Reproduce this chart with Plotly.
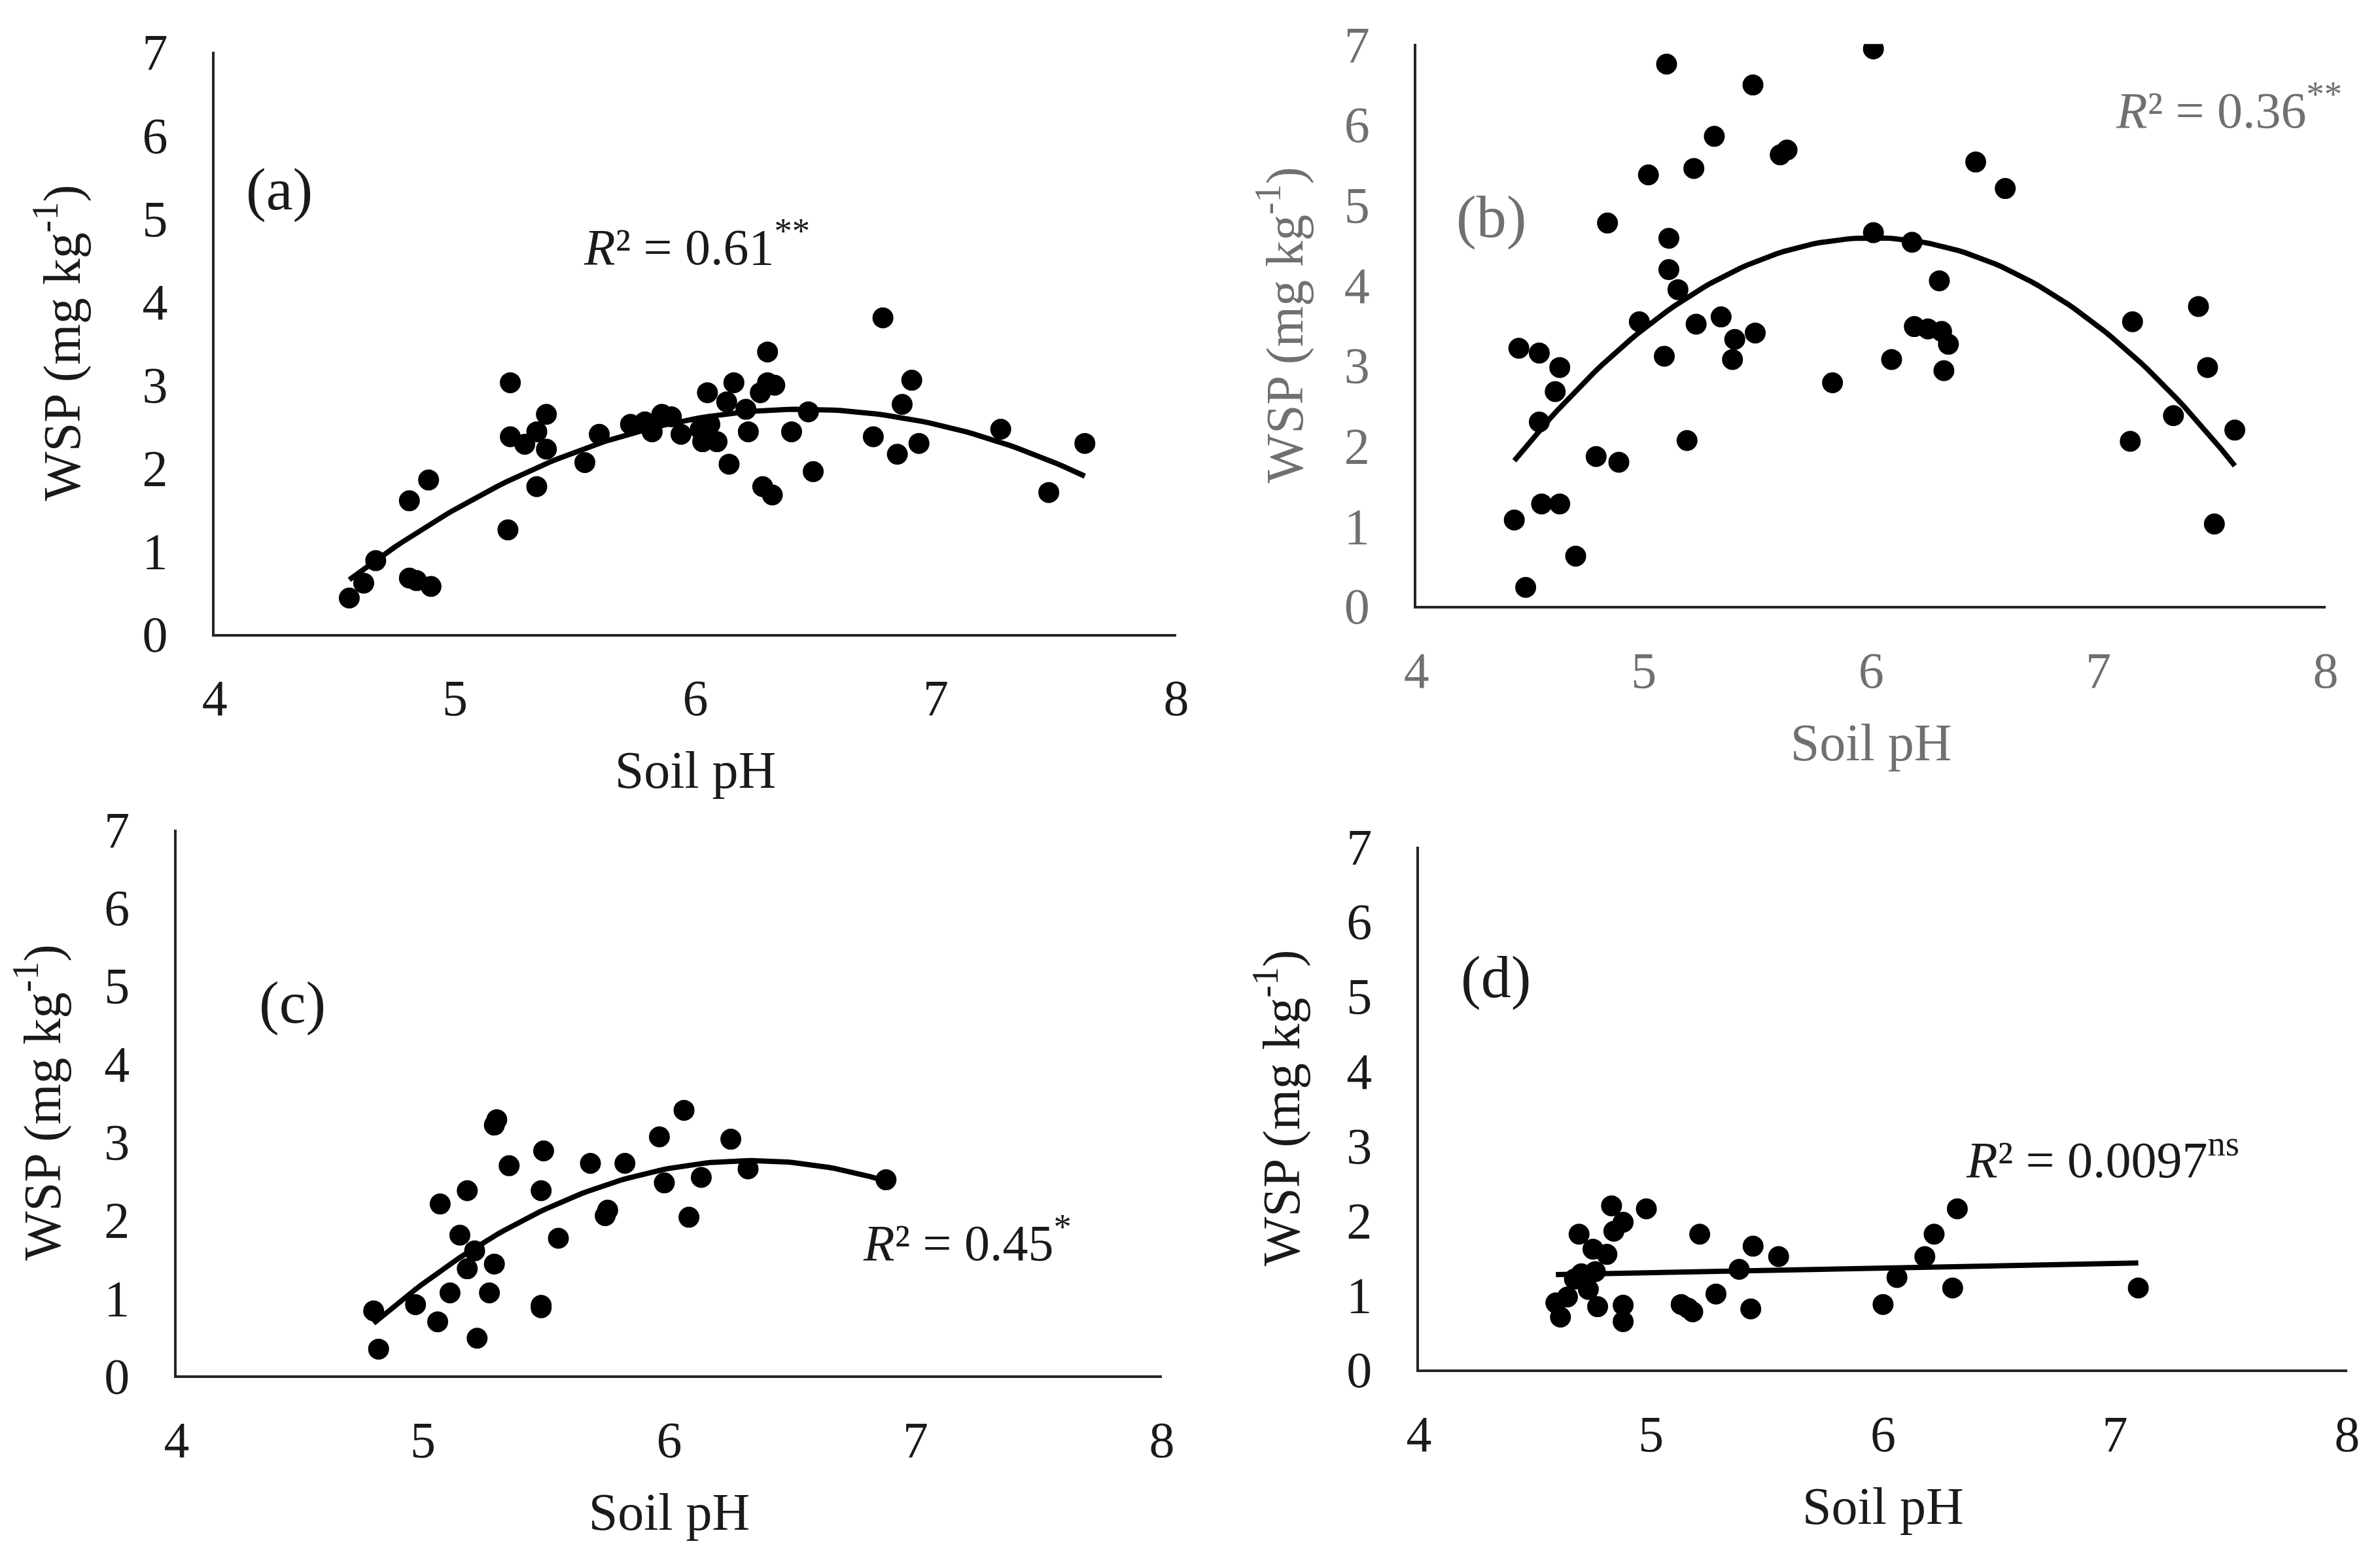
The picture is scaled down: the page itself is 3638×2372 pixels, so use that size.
import numpy as np
import plotly.graph_objects as go

# Soil pH vs WSP, four sites (a)-(d)
ph_a = [4.56, 4.62, 4.67, 4.81, 4.89, 4.81, 4.84, 4.90, 5.23, 5.22, 5.23, 5.29, 5.34, 5.38,
        5.38, 5.34, 5.54, 5.60, 5.73, 5.79, 5.82, 5.86, 5.90, 5.94, 6.02, 6.03, 6.05, 6.06,
        6.09, 6.13, 6.14, 6.16, 6.21, 6.22, 6.27, 6.30, 6.30, 6.28, 6.32, 6.33, 6.40, 6.47,
        6.49, 6.74, 6.78, 6.84, 6.86, 6.90, 6.93, 7.27, 7.47, 7.62]
wsp_a = [0.43, 0.61, 0.88, 1.60, 1.85, 0.67, 0.64, 0.57, 3.02, 1.25, 2.37, 2.28, 2.43, 2.64,
         2.22, 1.77, 2.06, 2.40, 2.52, 2.55, 2.43, 2.64, 2.61, 2.40, 2.46, 2.31, 2.90, 2.52,
         2.31, 2.79, 2.04, 3.02, 2.70, 2.43, 2.90, 3.02, 3.39, 1.77, 1.67, 2.99, 2.43, 2.67,
         1.95, 2.37, 3.80, 2.16, 2.76, 3.05, 2.29, 2.46, 1.70, 2.29]

ph_b = [4.43, 4.45, 4.48, 4.54, 4.54, 4.55, 4.63, 4.63, 4.61, 4.70, 4.79, 4.84, 4.89, 4.98,
        5.02, 5.09, 5.10, 5.11, 5.11, 5.15, 5.19, 5.22, 5.23, 5.31, 5.34, 5.39, 5.40, 5.48,
        5.49, 5.60, 5.63, 5.83, 6.01, 6.01, 6.09, 6.18, 6.19, 6.25, 6.31, 6.30, 6.34, 6.32,
        6.46, 6.59, 7.15, 7.14, 7.33, 7.44, 7.48, 7.51, 7.60]
wsp_b = [1.07, 3.21, 0.23, 3.15, 2.29, 1.27, 1.27, 2.97, 2.67, 0.62, 1.86, 4.77, 1.79, 3.54,
         5.37, 3.11, 6.75, 4.58, 4.19, 3.94, 2.06, 5.45, 3.51, 5.85, 3.60, 3.07, 3.32, 6.49,
         3.40, 5.62, 5.68, 2.78, 4.65, 6.94, 3.07, 4.53, 3.48, 3.45, 3.42, 4.05, 3.26, 2.93,
         5.53, 5.20, 3.54, 2.05, 2.37, 3.73, 2.97, 1.02, 2.19]

ph_c = [4.80, 4.82, 4.97, 5.06, 5.07, 5.11, 5.15, 5.18, 5.18, 5.21, 5.22, 5.27, 5.29, 5.29,
        5.30, 5.35, 5.48, 5.48, 5.48, 5.49, 5.55, 5.68, 5.74, 5.75, 5.82, 5.96, 5.98, 6.06,
        6.08, 6.13, 6.25, 6.32, 6.88]
wsp_c = [0.83, 0.34, 0.91, 0.69, 2.20, 1.06, 1.80, 2.37, 1.37, 1.60, 0.48, 1.06, 1.43, 3.21,
         3.28, 2.69, 0.90, 0.87, 2.37, 2.88, 1.76, 2.72, 2.05, 2.12, 2.72, 3.06, 2.47, 3.40,
         2.03, 2.54, 3.03, 2.65, 2.51]

ph_d = [4.59, 4.61, 4.64, 4.67, 4.69, 4.70, 4.73, 4.75, 4.76, 4.77, 4.81, 4.83, 4.84, 4.88,
        4.88, 4.88, 4.98, 5.13, 5.16, 5.18, 5.21, 5.28, 5.38, 5.43, 5.44, 5.55, 6.00, 6.06,
        6.18, 6.22, 6.30, 6.32, 7.10]
wsp_d = [0.89, 0.70, 0.97, 1.21, 1.81, 1.28, 1.07, 1.61, 1.31, 0.84, 1.54, 2.19, 1.85, 1.97,
         0.86, 0.64, 2.15, 0.87, 0.82, 0.77, 1.81, 1.01, 1.34, 0.81, 1.65, 1.51, 0.87, 1.23,
         1.51, 1.81, 1.09, 2.15, 1.09]

labels = ["(a)", "(b)", "(c)", "(d)"]
r2_values = ["0.61", "0.36", "0.45", "0.0097"]
r2_signif = ["**", "**", "*", "ns"]
x_ticks = [4, 5, 6, 7, 8]
y_ticks = [0, 1, 2, 3, 4, 5, 6, 7]

FONT = "Liberation Serif, Times New Roman, serif"

panels = [
    dict(x=ph_a, y=wsp_a, deg=2, color="#1a1a1a",
         dom_x=[0.088, 0.492], dom_y=[0.595, 0.970], ystand=70,
         lab_pos=(4.27, 5.35), r2_pos=(5.53, 4.70)),
    dict(x=ph_b, y=wsp_b, deg=2, color="#707070",
         dom_x=[0.593, 0.975], dom_y=[0.613, 0.975], ystand=38,
         lab_pos=(4.33, 4.85), r2_pos=(7.07, 6.22)),
    dict(x=ph_c, y=wsp_c, deg=2, color="#1a1a1a",
         dom_x=[0.072, 0.486], dom_y=[0.117, 0.469], ystand=50,
         lab_pos=(4.47, 4.78), r2_pos=(6.78, 1.75)),
    dict(x=ph_d, y=wsp_d, deg=1, color="#1a1a1a",
         dom_x=[0.594, 0.984], dom_y=[0.121, 0.458], ystand=46,
         lab_pos=(4.33, 5.25), r2_pos=(6.35, 2.86)),
]

fig = go.Figure()
annotations = []

for i, p in enumerate(panels):
    n = "" if i == 0 else str(i + 1)
    xa, ya = "x" + n, "y" + n

    fig.add_trace(go.Scatter(x=p["x"], y=p["y"], mode="markers", xaxis=xa, yaxis=ya,
                             marker=dict(color="black", size=32), showlegend=False))

    # fitted trend line through the data
    coef = np.polyfit(p["x"], p["y"], p["deg"])
    xs = np.linspace(min(p["x"]), max(p["x"]), 100)
    fig.add_trace(go.Scatter(x=xs, y=np.polyval(coef, xs), mode="lines", xaxis=xa, yaxis=ya,
                             line=dict(color="black", width=8), showlegend=False))

    axis_common = dict(showgrid=False, zeroline=False, showline=True, linecolor="#262626",
                       linewidth=4, ticks="", automargin=False,
                       tickfont=dict(family=FONT, size=78, color=p["color"]))
    fig.layout["xaxis" + n] = dict(axis_common, domain=p["dom_x"], anchor=ya, range=[4, 8],
                                   tickvals=x_ticks, ticklabelstandoff=27,
                                   title=dict(text="Soil pH", standoff=40,
                                              font=dict(family=FONT, size=80, color=p["color"])))
    fig.layout["yaxis" + n] = dict(axis_common, domain=p["dom_y"], anchor=xa, range=[0, 7],
                                   tickvals=y_ticks, ticklabelstandoff=52,
                                   title=dict(text="WSP (mg kg<sup>-1</sup>)", standoff=p["ystand"],
                                              font=dict(family=FONT, size=80, color=p["color"])))

    annotations.append(dict(x=p["lab_pos"][0], y=p["lab_pos"][1], xref=xa, yref=ya,
                            text=labels[i], showarrow=False, xanchor="center", yanchor="middle",
                            font=dict(family=FONT, size=92, color=p["color"])))
    annotations.append(dict(x=p["r2_pos"][0], y=p["r2_pos"][1], xref=xa, yref=ya,
                            text="<i>R</i>² = " + r2_values[i] + "<sup>" + r2_signif[i] + "</sup>",
                            showarrow=False, xanchor="left", yanchor="middle",
                            font=dict(family=FONT, size=78, color=p["color"])))

fig.update_layout(width=3638, height=2372, plot_bgcolor="white", paper_bgcolor="white",
                  margin=dict(l=0, r=0, t=0, b=0), annotations=annotations)

fig.write_html("out.html")
